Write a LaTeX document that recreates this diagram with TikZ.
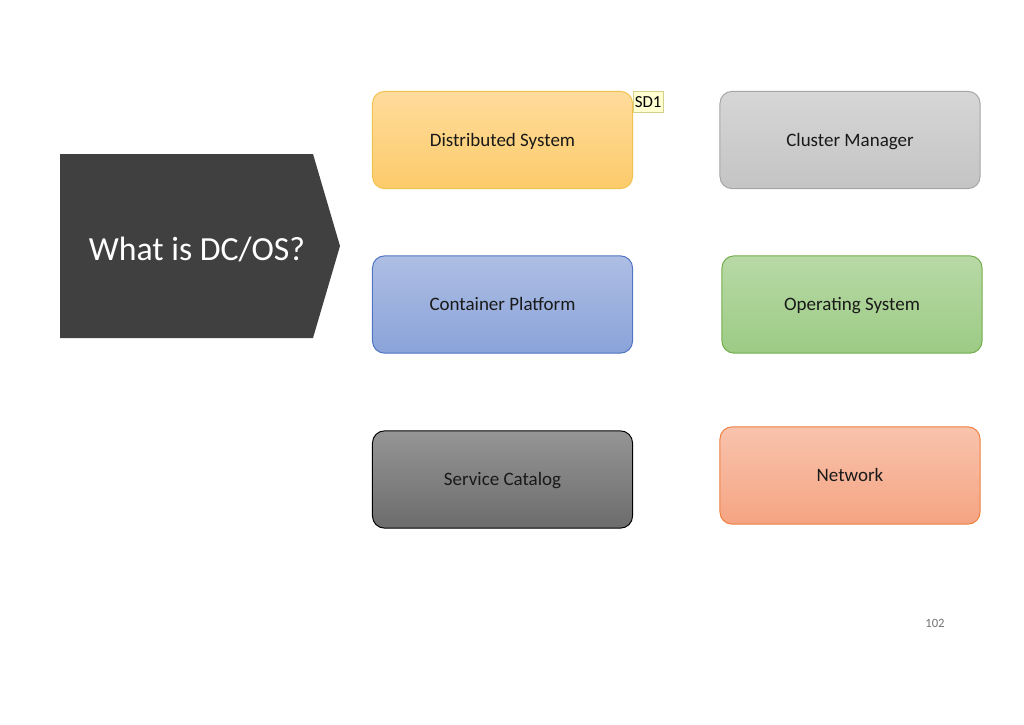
\documentclass[tikz,border=0pt]{standalone}
\usepackage{fontspec}
\setmainfont{Carlito}
\usepackage{tikz}

\definecolor{dsTop}{HTML}{FFDC9C}
\definecolor{dsBot}{HTML}{FCCB6A}
\definecolor{dsLine}{HTML}{F0C24E}
\definecolor{cmTop}{HTML}{D6D6D6}
\definecolor{cmBot}{HTML}{C4C4C4}
\definecolor{cmLine}{HTML}{A5A5A5}
\definecolor{cpTop}{HTML}{AEBEE4}
\definecolor{cpBot}{HTML}{8AA3D9}
\definecolor{cpLine}{HTML}{4E74C2}
\definecolor{osTop}{HTML}{B8D9A6}
\definecolor{osBot}{HTML}{9CCB84}
\definecolor{osLine}{HTML}{72AD4C}
\definecolor{scTop}{HTML}{959595}
\definecolor{scBot}{HTML}{6C6C6C}
\definecolor{nwTop}{HTML}{F8C3AD}
\definecolor{nwBot}{HTML}{F5A482}
\definecolor{nwLine}{HTML}{EE7F3F}
\definecolor{arrowGray}{HTML}{404040}
\definecolor{tagFill}{HTML}{FFFFD2}
\definecolor{tagLine}{HTML}{D2D08A}

\begin{document}
\begin{tikzpicture}[x=0.025cm, y=-0.025cm,
  topic/.style={rounded corners=0.3cm, line width=0.7pt, minimum width=6.5cm,
    minimum height=2.43cm, text height=12pt, text depth=2.8pt,
    font=\fontsize{13.5}{16}\selectfont, text=black!90},
  tag/.style={draw=tagLine, fill=tagFill, line width=0.6pt, inner sep=1pt,
    minimum width=0.7cm, minimum height=0.52cm, font=\fontsize{12}{14}\selectfont},
  title/.style={text=white, font=\fontsize{24}{28}\selectfont}]

\useasboundingbox (0,0) rectangle (1024,724);

% the heading arrow
\fill[arrowGray] (60,154) -- (313,154) -- (340,246) -- (313,338) -- (60,338) -- cycle;
\node[title] (what) at (197,249) {What is DC/OS?};

% left column
\node[topic, draw=dsLine, top color=dsTop, bottom color=dsBot] (dist) at (502.5,140) {Distributed System};
\node[topic, draw=cpLine, top color=cpTop, bottom color=cpBot] (cont) at (502.5,304.5) {Container Platform};
\node[topic, draw=black, top color=scTop, bottom color=scBot] (serv) at (502.5,479.5) {Service Catalog};

% right column
\node[topic, draw=cmLine, top color=cmTop, bottom color=cmBot] (clus) at (850,140) {Cluster Manager};
\node[topic, draw=osLine, top color=osTop, bottom color=osBot] (oper) at (852,304.5) {Operating System};
\node[topic, draw=nwLine, top color=nwTop, bottom color=nwBot] (netw) at (850,475.5) {Network};

% comment marker
\node[tag, anchor=north west] (sd) at (633,91) {SD1};

\node[text=black!55, font=\fontsize{9}{11}\selectfont] (page) at (935,623) {102};

\end{tikzpicture}
\end{document}
